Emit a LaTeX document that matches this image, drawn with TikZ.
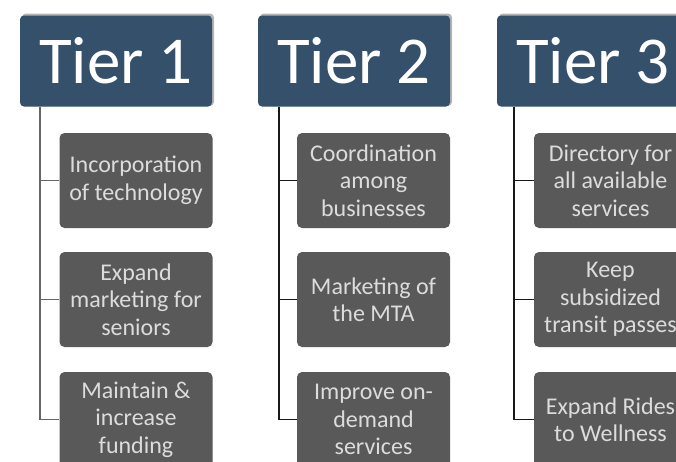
\documentclass[tikz,border=0pt]{standalone}
\usepackage{fontspec}
\setmainfont{Carlito}
\definecolor{hdr}{HTML}{34506A}
\definecolor{box}{HTML}{595959}
\definecolor{boxtxt}{HTML}{DCDCDC}
\definecolor{shad}{HTML}{B4B4B4}
\begin{document}
\begin{tikzpicture}[x=1pt,y=-1pt,
  header/.style={fill=hdr,text=white,rounded corners=4pt,minimum width=192pt,minimum height=91pt,inner sep=0pt,font=\fontsize{67}{72}\selectfont},
  item/.style={fill=box,text=boxtxt,rounded corners=5pt,minimum width=153pt,minimum height=95pt,inner sep=0pt,align=center,font=\fontsize{24}{27.5}\selectfont},
  link/.style={line width=1.5pt},
]
\useasboundingbox (0,0) rectangle (676,461);
\clip (0,0) rectangle (676,461);
% header shadows
\foreach \x in {116,354,593}{
  \fill[shad,rounded corners=4pt] (\x-94,13.5) rectangle (\x+98,106);
}
\node[header] (h1) at (116,61) {Tier 1};
\node[header] (h2) at (354,61) {Tier 2};
\node[header] (h3) at (593,61) {Tier 3};

\node[item] (a1) at (136,180.5) {Incorporation\\of technology};
\node[item] (a2) at (136,299.5) {Expand\\marketing for\\seniors};
\node[item] (a3) at (136,419.5) {Maintain \&\\increase\\funding};

\node[item] (b1) at (373.5,180.5) {Coordination\\among\\businesses};
\node[item] (b2) at (373.5,299.5) {Marketing of\\the MTA};
\node[item] (b3) at (373.5,419.5) {Improve on-\\demand\\services};

\node[item] (c1) at (610.5,180.5) {Directory for\\all available\\services};
\node[item] (c2) at (610.5,299.5) {Keep\\subsidized\\transit passes};
\node[item] (c3) at (610.5,419.5) {Expand Rides\\to Wellness};

\draw[link,color=black!60] ([xshift=20pt]h1.south west) |- (a3.west);
\draw[link,color=black!60] (a1.west) -- ++(-20,0);
\draw[link,color=black!60] (a2.west) -- ++(-20,0);

\draw[link,color=black!90] ([xshift=21pt]h2.south west) |- (b3.west);
\draw[link,color=black!90] (b1.west) -- ++(-18.5,0);
\draw[link,color=black!90] (b2.west) -- ++(-18.5,0);

\draw[link,color=black!90] ([xshift=17pt]h3.south west) |- (c3.west);
\draw[link,color=black!90] (c1.west) -- ++(-20,0);
\draw[link,color=black!90] (c2.west) -- ++(-20,0);
\end{tikzpicture}
\end{document}
